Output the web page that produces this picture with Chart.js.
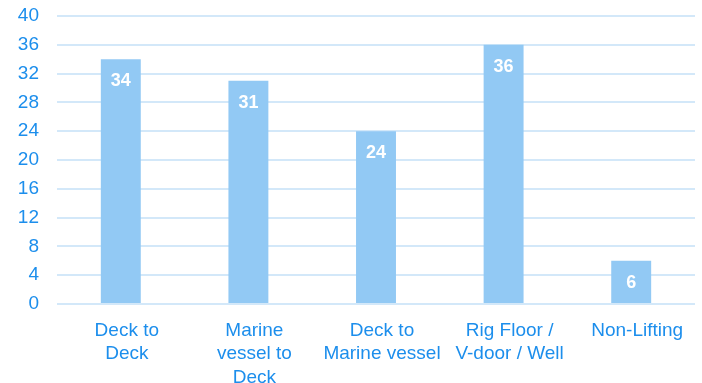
<!DOCTYPE html>
<html>
<head>
<meta charset="utf-8">
<script src="https://cdn.jsdelivr.net/npm/chart.js@4.4.1/dist/chart.umd.min.js"></script>
<style>
    html, body { margin: 0; padding: 0; background: #fff; }
    #wrap { width: 702px; height: 383px; }
</style>
</head>
<body>
<div id="wrap"><canvas id="chart1"></canvas></div>
<script>
// данные графика
const categories = [
    ['Deck to', 'Deck'],
    ['Marine', 'vessel to', 'Deck'],
    ['Deck to', 'Marine vessel'],
    ['Rig Floor /', 'V-door / Well'],
    ['Non-Lifting']
];
const liftCounts = [34, 31, 24, 36, 6];
const yTicks = [0, 4, 8, 12, 16, 20, 24, 28, 32, 36, 40];

const textBlue = '#1C8EEC';
const gridBlue = '#D3E8F9';
const barBlue = '#92C9F4';

// подписи значений внутри столбиков (белые, жирные)
const barValuePlugin = {
    id: 'barValues',
    afterDatasetsDraw(chart) {
        const ctx = chart.ctx;
        const meta = chart.getDatasetMeta(0);
        ctx.save();
        ctx.fillStyle = '#fff';
        ctx.font = 'bold 18px "Liberation Sans", Arial, sans-serif';
        ctx.textAlign = 'center';
        ctx.textBaseline = 'middle';
        meta.data.forEach((bar, i) => {
            ctx.fillText(String(liftCounts[i]), bar.x, bar.y + 22);
        });
        ctx.restore();
    }
};

const ctx1 = document.getElementById('chart1').getContext('2d');
new Chart(ctx1, {
    type: 'bar',
    data: {
        labels: categories,
        datasets: [{
            data: liftCounts,
            backgroundColor: barBlue,
            borderWidth: 0,
            categoryPercentage: 1,
            barPercentage: 0.313
        }]
    },
    options: {
        responsive: true,
        maintainAspectRatio: false,
        animation: false,
        layout: { padding: { top: 16, right: 7, left: 0, bottom: 0 } },
        plugins: {
            legend: { display: false },
            tooltip: { enabled: false }
        },
        scales: {
            x: {
                grid: { display: false },
                border: { display: false },
                ticks: {
                    color: textBlue,
                    font: { family: '"Liberation Sans", Arial, sans-serif', size: 19, lineHeight: 1.23 },
                    padding: 7,
                    labelOffset: 6,
                    maxRotation: 0,
                    autoSkip: false
                },
                afterFit(scale) { scale.height = 79; }
            },
            y: {
                min: 0,
                max: 40,
                afterBuildTicks(scale) {
                    scale.ticks = yTicks.map(v => ({ value: v }));
                },
                grid: { color: gridBlue, lineWidth: 2, tickLength: 0 },
                border: { display: false },
                ticks: {
                    color: textBlue,
                    font: { family: '"Liberation Sans", Arial, sans-serif', size: 19 },
                    padding: 18
                },
                afterFit(scale) {
                    // отступ сверху задаётся через layout.padding
                    scale.width = 57;
                    scale.paddingTop = 0;
                    scale.paddingBottom = 0;
                }
            }
        }
    },
    plugins: [barValuePlugin]
});
</script>
</body>
</html>
